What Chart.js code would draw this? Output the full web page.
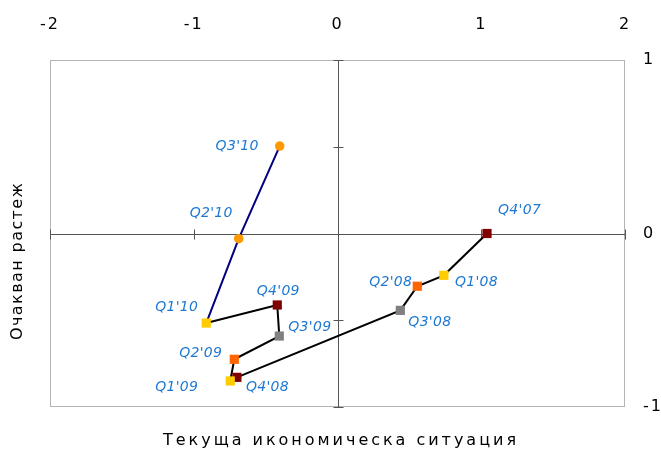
<!DOCTYPE html>
<html>
<head>
<meta charset="utf-8">
<script src="https://cdn.jsdelivr.net/npm/chart.js@4.4.1/dist/chart.umd.min.js"></script>
<style>
html, body { margin: 0; padding: 0; background: #fff; }
#wrap { width: 661px; height: 451px; }
</style>
</head>
<body>
<div id="wrap"><canvas id="chart"></canvas></div>
<script>
// data
var quarters = ["Q4'07", "Q1'08", "Q2'08", "Q3'08", "Q4'08", "Q1'09", "Q2'09", "Q3'09", "Q4'09", "Q1'10"];
var situation = [1.04, 0.74, 0.555, 0.437, -0.70, -0.746, -0.718, -0.405, -0.419, -0.913];
var growth = [0, -0.241, -0.304, -0.443, -0.829, -0.85, -0.725, -0.591, -0.412, -0.516];

var quarters2 = ["Q1'10", "Q2'10", "Q3'10"];
var situation2 = [-0.913, -0.687, -0.402];
var growth2 = [-0.516, -0.03, 0.504];

var xTicks = [-2, -1, 0, 1, 2];
var yTicks = [-1, 0, 1];
var yAxisMarks = [-1, -0.5, 0, 0.5, 1];

var xTitle = 'Текуща икономическа ситуация';
var yTitle = 'Очакван растеж';

// styles
var quarterColor = { Q1: '#ffcc00', Q2: '#ff6600', Q3: '#808080', Q4: '#800000' };
var labelBlue = '#1e78d2';
// label placement: [align, dx, dy] relative to the point
var labelPos = {
	"Q4'07": ['left', 11, -23],
	"Q1'08": ['left', 11, 7],
	"Q2'08": ['right', -5, -4],
	"Q3'08": ['left', 8, 12],
	"Q4'08": ['left', 9, 10],
	"Q1'09": ['right', -32, 6],
	"Q2'09": ['right', -12, -6],
	"Q3'09": ['left', 9, -9],
	"Q4'09": ['center', 1, -14],
	"Q1'10": ['right', -8, -16],
	"Q2'10": ['right', -6, -25],
	"Q3'10": ['right', -21, 0]
};

function pts(xs, ys) {
	return xs.map(function (x, i) { return { x: x, y: ys[i] }; });
}

var crossAxes = {
	id: 'crossAxes',
	beforeDraw: function (chart) {
		chart.ctx.letterSpacing = '2px';
	},
	beforeDatasetsDraw: function (chart) {
		var ctx = chart.ctx, a = chart.chartArea;
		var xs = chart.scales.x, ys = chart.scales.y;
		ctx.save();
		ctx.letterSpacing = '0px';
		ctx.strokeStyle = '#b4b4b4';
		ctx.lineWidth = 1;
		ctx.strokeRect(a.left + 0.5, a.top + 0.5, a.right - a.left - 1, a.bottom - a.top - 1);

		var x0 = Math.round(xs.getPixelForValue(0)) + 0.5;
		var y0 = Math.round(ys.getPixelForValue(0)) + 0.5;
		ctx.strokeStyle = '#555555';
		ctx.beginPath();
		ctx.moveTo(a.left, y0); ctx.lineTo(a.right, y0);
		ctx.moveTo(x0, a.top); ctx.lineTo(x0, a.bottom);
		xTicks.forEach(function (v) {
			var px = Math.round(xs.getPixelForValue(v)) + 0.5;
			ctx.moveTo(px, y0 - 5); ctx.lineTo(px, y0 + 5);
		});
		yAxisMarks.forEach(function (v) {
			var py = Math.round(ys.getPixelForValue(v)) + 0.5;
			ctx.moveTo(x0 - 5, py); ctx.lineTo(x0 + 5, py);
		});
		ctx.stroke();
		ctx.restore();
		ctx.letterSpacing = '0px';
	},
	afterDraw: function (chart) {
		var ctx = chart.ctx;
		ctx.save();
		ctx.fillStyle = '#000';
		ctx.font = '16px "DejaVu Sans"';
		ctx.textBaseline = 'middle';
		ctx.textAlign = 'left';
		// x title, stretched to the width seen in the chart
		ctx.letterSpacing = '0px';
		var w = ctx.measureText(xTitle).width;
		ctx.letterSpacing = ((353 - w) / (xTitle.length - 1)) + 'px';
		ctx.fillText(xTitle, 163, 441);
		// y title, rotated
		ctx.letterSpacing = '0px';
		w = ctx.measureText(yTitle).width;
		ctx.letterSpacing = ((157 - w) / (yTitle.length - 1)) + 'px';
		ctx.translate(18, 340);
		ctx.rotate(-Math.PI / 2);
		ctx.fillText(yTitle, 0, 0);
		ctx.restore();
	}
};

var pointLabels = {
	id: 'pointLabels',
	afterDatasetsDraw: function (chart) {
		var ctx = chart.ctx;
		ctx.save();
		ctx.font = 'italic 14px "DejaVu Sans"';
		ctx.letterSpacing = '0.3px';
		ctx.fillStyle = labelBlue;
		ctx.textBaseline = 'middle';
		[[0, quarters], [1, quarters2]].forEach(function (d) {
			var meta = chart.getDatasetMeta(d[0]);
			d[1].forEach(function (q, i) {
				if (d[0] === 1 && i === 0) return;
				var p = labelPos[q], el = meta.data[i];
				ctx.textAlign = p[0];
				ctx.fillText(q, el.x + p[1], el.y + p[2]);
			});
		});
		ctx.restore();
	}
};

var ctx = document.getElementById('chart').getContext('2d');
var myChart = new Chart(ctx, {
	type: 'scatter',
	data: {
		datasets: [
			{
				label: '2007-2010',
				data: pts(situation, growth),
				showLine: true,
				borderColor: '#000000',
				borderWidth: 2,
				pointStyle: 'rect',
				pointRadius: 6.5,
				pointHoverRadius: 6.5,
				pointBorderWidth: 0,
				pointBackgroundColor: quarters.map(function (q) { return quarterColor[q.substring(0, 2)]; })
			},
			{
				label: '2010',
				data: pts(situation2, growth2),
				showLine: true,
				borderColor: '#000080',
				borderWidth: 2,
				pointStyle: 'circle',
				pointRadius: [0, 4.8, 4.8],
				pointHoverRadius: [0, 4.8, 4.8],
				pointBorderWidth: 0,
				pointBackgroundColor: '#ff9900'
			}
		]
	},
	options: {
		responsive: true,
		maintainAspectRatio: false,
		animation: false,
		layout: { padding: { left: 50, bottom: 44, top: 0, right: 0 } },
		plugins: {
			legend: { display: false },
			tooltip: { enabled: false }
		},
		scales: {
			x: {
				type: 'linear',
				position: 'top',
				min: -2,
				max: 2,
				afterBuildTicks: function (s) { s.ticks = xTicks.map(function (v) { return { value: v }; }); },
				afterFit: function (s) { s.height = 60; },
				grid: { display: false, drawTicks: false },
				border: { display: false },
				ticks: {
					padding: 26,
					color: '#000',
					font: { family: 'DejaVu Sans', size: 16 },
					maxRotation: 0
				}
			},
			y: {
				type: 'linear',
				position: 'right',
				min: -1,
				max: 1,
				afterBuildTicks: function (s) { s.ticks = yTicks.map(function (v) { return { value: v }; }); },
				afterFit: function (s) { s.width = 36; },
				grid: { display: false, drawTicks: false },
				border: { display: false },
				ticks: {
					padding: 18,
					color: '#000',
					font: { family: 'DejaVu Sans', size: 16 }
				}
			}
		}
	},
	plugins: [crossAxes, pointLabels]
});
</script>
</body>
</html>
